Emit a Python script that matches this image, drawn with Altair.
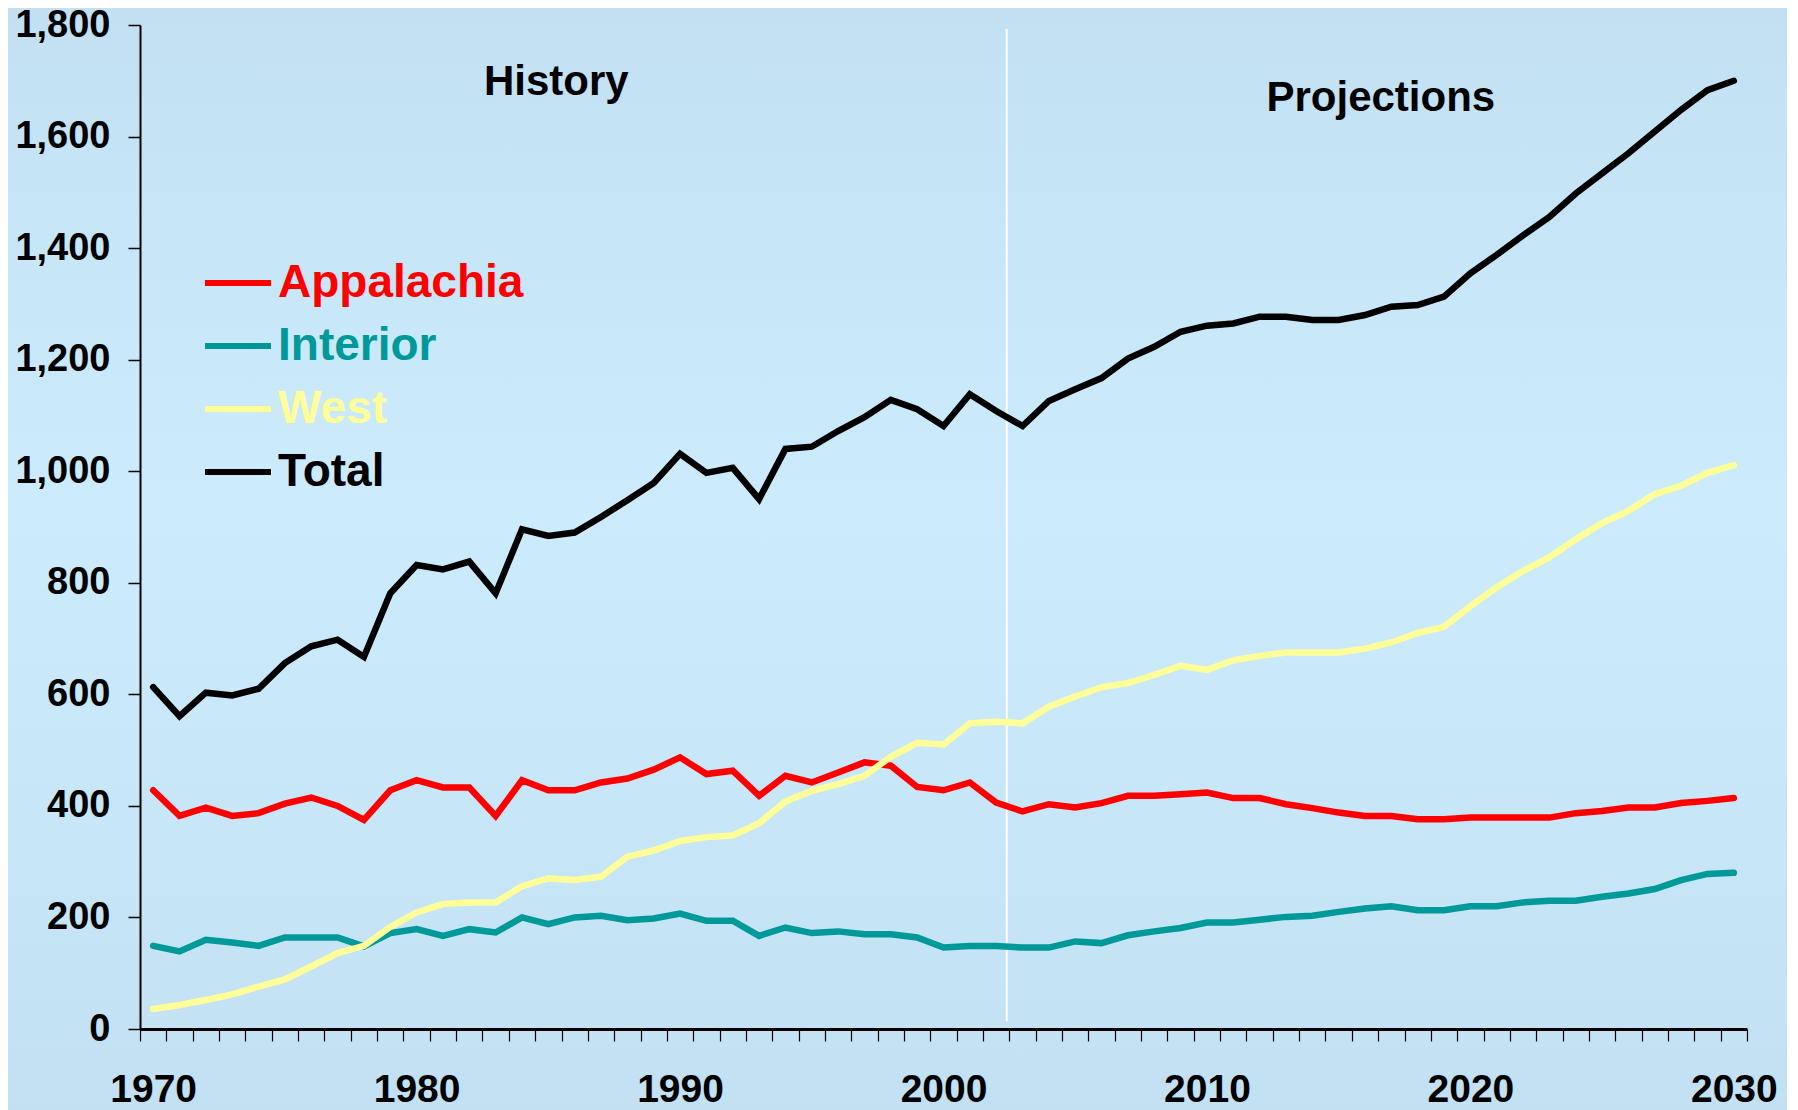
import altair as alt
import pandas as pd

years = list(range(1970, 2031))

appalachia = [428, 382, 397, 382, 387, 404, 415, 400, 375, 428,
              446, 433, 433, 382, 446, 428, 428, 442, 449, 465,
              487, 457, 463, 418, 454, 442, 460, 478, 472, 434,
              428, 442, 406, 390, 403, 397, 405, 418, 418, 421,
              424, 414, 414, 403, 396, 388, 382, 382, 376, 376,
              379, 379, 379, 379, 387, 391, 397, 397, 405, 409, 414]

interior = [149, 139, 160, 155, 149, 164, 164, 164, 148, 172,
            179, 167, 179, 173, 200, 188, 200, 203, 195, 198,
            207, 194, 194, 167, 182, 172, 175, 170, 170, 164,
            146, 149, 149, 146, 146, 157, 154, 168, 175, 181,
            191, 191, 196, 201, 203, 210, 216, 220, 213, 213,
            220, 220, 227, 230, 230, 237, 243, 251, 267, 278, 280]

west = [36, 43, 52, 62, 76, 89, 112, 136, 149, 183,
        209, 224, 227, 227, 256, 270, 267, 273, 309, 320,
        337, 344, 347, 369, 408, 427, 439, 454, 488, 513,
        510, 548, 551, 548, 578, 596, 613, 620, 635, 651,
        644, 661, 669, 675, 675, 675, 682, 693, 710, 721,
        758, 792, 821, 846, 878, 907, 929, 959, 974, 997, 1011]

total = [613, 561, 603, 598, 610, 656, 686, 698, 667, 781,
         832, 824, 838, 781, 896, 884, 890, 918, 948, 979,
         1031, 997, 1006, 950, 1040, 1044, 1072, 1097, 1128, 1111,
         1081, 1138, 1108, 1081, 1126, 1147, 1167, 1202, 1223, 1250,
         1261, 1265, 1277, 1277, 1271, 1271, 1280, 1295, 1298, 1313,
         1355, 1388, 1423, 1456, 1498, 1534, 1570, 1609, 1648, 1683, 1700]

series_names = ["Appalachia", "Interior", "West", "Total"]
series_colors = ["#FF0000", "#009999", "#FFFF99", "#000000"]

y_ticks = [0, 200, 400, 600, 800, 1000, 1200, 1400, 1600, 1800]
x_label_years = [1970, 1980, 1990, 2000, 2010, 2020, 2030]
tick_boundaries = [y - 0.5 for y in years] + [years[-1] + 0.5]

divider_year = [2002.4]
divider_lo = [14]
divider_hi = [1793]

note_text = ["History", "Projections"]
note_year = [1985.3, 2016.6]
note_value = [1674, 1646]

FONT = "Liberation Sans"
W, H = 1607, 1004

rows = []
for name, vals in zip(series_names, [appalachia, interior, west, total]):
    for yr, v in zip(years, vals):
        rows.append({"year": yr, "value": v, "series": name})
df = pd.DataFrame(rows)

xscale = alt.Scale(domain=[years[0] - 0.5, years[-1] + 0.5], nice=False, zero=False)
yscale = alt.Scale(domain=[0, 1800], nice=False)

label_pos = ",".join(str(y - 0.5) for y in x_label_years)
label_expr = f"indexof([{label_pos}], datum.value) >= 0 ? format(datum.value + 0.5, 'd') : ''"

color_expr = "datum.label == 'Appalachia' ? '#FF0000' : datum.label == 'Interior' ? '#009999' : datum.label == 'West' ? '#FFFF99' : '#000000'"

x_axis = alt.Axis(values=tick_boundaries, labelExpr=label_expr,
                  labelOffset=W / 61 / 2, labelFlush=False, labelOverlap=False,
                  labelBound=False, tickSize=12, tickWidth=1.2, tickColor="black",
                  domainColor="black", domainWidth=3, labelPadding=29,
                  labelFont=FONT, labelFontSize=39, labelFontWeight="bold",
                  labelColor="black", grid=False, zindex=2)
y_axis = alt.Axis(values=y_ticks, format=",d", tickSize=12, tickWidth=1.5,
                  tickColor="black", domainColor="black", domainWidth=2,
                  labelPadding=18, labelFont=FONT, labelFontSize=38,
                  labelFontWeight="bold", labelColor="black", grid=False,
                  labelFlush=False, zindex=2)

bg = alt.Chart(alt.Data(values=[{}])).mark_rect(
    fill=alt.LinearGradient(
        gradient="linear",
        stops=[alt.GradientStop(offset=0, color="#C2E0F2"),
               alt.GradientStop(offset=0.45, color="#CCECFD"),
               alt.GradientStop(offset=1, color="#C2E0F2")],
        x1=0, x2=0, y1=0, y2=1),
    stroke=None,
).encode(
    x=alt.value(-140), x2=alt.value(W + 60),
    y=alt.value(-25), y2=alt.value(H + 100),
)

lines = alt.Chart(df).mark_line(strokeWidth=6.5, strokeCap="round").encode(
    x=alt.X("year:Q", scale=xscale, title=None, axis=x_axis),
    y=alt.Y("value:Q", scale=yscale, title=None, axis=y_axis),
    color=alt.Color("series:N",
                    scale=alt.Scale(domain=series_names, range=series_colors),
                    legend=alt.Legend(title=None, orient="none", legendX=62, legendY=222,
                                      symbolType="stroke", symbolSize=4356,
                                      symbolStrokeWidth=6, labelFont=FONT,
                                      labelFontSize=46, labelFontWeight="bold",
                                      labelColor=alt.ExprRef(expr=color_expr),
                                      labelLimit=0,
                                      labelOffset=4, rowPadding=4, padding=0,
                                      direction="vertical", zindex=3)),
    order=alt.Order("year:Q"),
)

divider = alt.Chart(pd.DataFrame({"year": divider_year, "lo": divider_lo, "hi": divider_hi})).mark_rule(
    color="white", strokeWidth=2
).encode(
    x=alt.X("year:Q", scale=xscale, title=None, axis=x_axis),
    y=alt.Y("lo:Q", scale=yscale, title=None, axis=y_axis),
    y2="hi:Q",
)

notes = alt.Chart(pd.DataFrame({"text": note_text, "year": note_year, "value": note_value})).mark_text(
    font=FONT, fontSize=42, fontWeight="bold", color="black", align="center", baseline="alphabetic"
).encode(
    x=alt.X("year:Q", scale=xscale, title=None, axis=x_axis),
    y=alt.Y("value:Q", scale=yscale, title=None, axis=y_axis),
    text="text:N",
)

chart = alt.layer(bg, divider, lines, notes).properties(
    width=W, height=H,
    autosize=alt.AutoSizeParams(type="none"),
    padding={"left": 132, "top": 17, "right": 40, "bottom": 88},
    background="#C6E4F6",
).configure_view(stroke=None)

chart.save("out.html", embed_options={"renderer": "svg", "actions": False})
